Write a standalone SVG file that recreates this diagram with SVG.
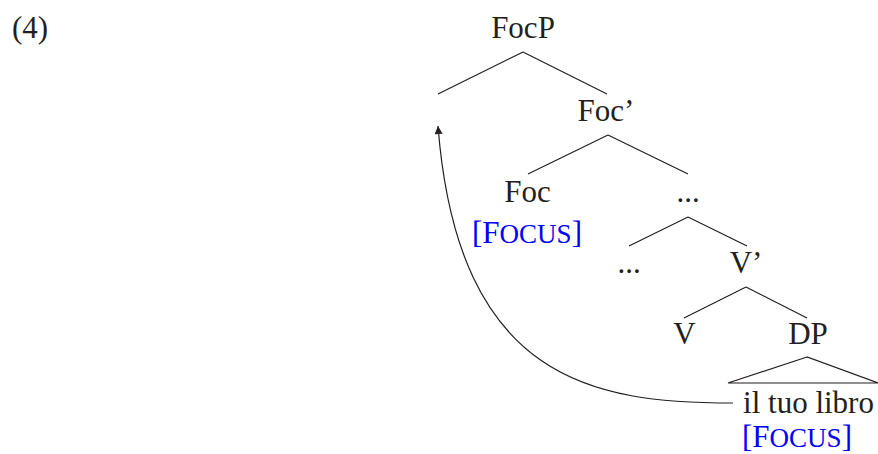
<svg xmlns="http://www.w3.org/2000/svg" width="878" height="454" viewBox="0 0 878 454">
<defs>
<style>
text{font-family:"Liberation Serif","Times New Roman",serif;font-size:31px;fill:#231f20}
.c{text-anchor:middle}
.f{fill:#0000ff}
.sc{font-size:27px}
.e{stroke:#231f20;stroke-width:1.2;fill:none}
</style>
<marker id="ah" viewBox="0 0 10 10" refX="10" refY="5" markerWidth="10" markerHeight="8" markerUnits="userSpaceOnUse" orient="auto">
<path d="M0,0 L10,5 L0,10 z" fill="#231f20"/>
</marker>
</defs>
<text x="12" y="38">(4)</text>
<g id="connectors">
<path class="e" d="M523,52 L438,94 M523,52 L607,94"/>
<path class="e" d="M608,135 L528,174 M608,135 L688,174"/>
<path class="e" d="M688,217 L629,246 M688,217 L747,246"/>
<path class="e" d="M746,287 L684,318 M746,287 L807,318"/>
<path class="e" d="M807,357 L728,383 L878,383 Z"/>
<path class="e" d="M733,403 C595,403 458,382 438,126" marker-end="url(#ah)"/>
</g>
<g id="FocP"><text class="c" x="523" y="38">FocP</text></g>
<g id="Foc-bar"><text class="c" x="606" y="121">Foc’</text></g>
<g id="Foc"><text class="c" x="527.5" y="202">Foc</text>
<text class="c f" x="527" y="243">[F<tspan class="sc">OCUS</tspan>]</text></g>
<g id="dots1"><text class="c" x="688" y="202">...</text></g>
<g id="dots2"><text class="c" x="629" y="273">...</text></g>
<g id="V-bar"><text class="c" x="746" y="273">V’</text></g>
<g id="V"><text class="c" x="684.5" y="344">V</text></g>
<g id="DP"><text class="c" x="808" y="344">DP</text></g>
<g id="il-tuo-libro"><text class="c" x="808.5" y="413">il tuo libro</text>
<text class="c f" x="797" y="447">[F<tspan class="sc">OCUS</tspan>]</text></g>
</svg>
